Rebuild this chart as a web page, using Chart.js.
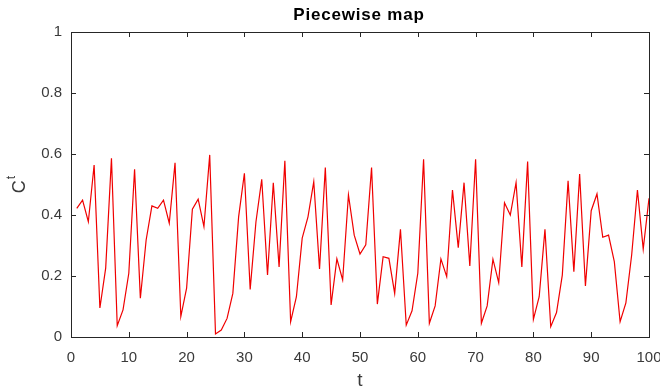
<!DOCTYPE html>
<html>
<head>
<meta charset="utf-8">
<script src="https://cdn.jsdelivr.net/npm/chart.js@4.4.0/dist/chart.umd.min.js"></script>
<style>
  html, body { margin: 0; padding: 0; background: #fff; }
  #wrap { width: 660px; height: 392px; position: relative; }
</style>
</head>
<body>
<div id="wrap"><canvas id="c" width="660" height="392"></canvas></div>
<script>
const tValues = [];
for (let i = 1; i <= 100; i++) tValues.push(i);

const cValues = [
  0.422, 0.449, 0.378, 0.564, 0.095, 0.226, 0.586, 0.037, 0.089, 0.209,
  0.550, 0.127, 0.318, 0.430, 0.422, 0.449, 0.373, 0.571, 0.067, 0.160,
  0.419, 0.452, 0.362, 0.597, 0.010, 0.023, 0.061, 0.143, 0.394, 0.537,
  0.156, 0.378, 0.517, 0.203, 0.506, 0.230, 0.578, 0.050, 0.132, 0.324,
  0.394, 0.509, 0.223, 0.556, 0.105, 0.256, 0.187, 0.466, 0.334, 0.272,
  0.302, 0.556, 0.108, 0.263, 0.258, 0.143, 0.353, 0.039, 0.086, 0.209,
  0.583, 0.045, 0.102, 0.256, 0.198, 0.482, 0.293, 0.506, 0.233, 0.583,
  0.045, 0.102, 0.255, 0.178, 0.440, 0.400, 0.506, 0.230, 0.575, 0.058,
  0.132, 0.353, 0.034, 0.080, 0.203, 0.512, 0.214, 0.534, 0.167, 0.414,
  0.469, 0.327, 0.334, 0.247, 0.050, 0.112, 0.269, 0.482, 0.288, 0.455
];

const xTicks = [0, 10, 20, 30, 40, 50, 60, 70, 80, 90, 100];
const yTicks = [0, 0.2, 0.4, 0.6, 0.8, 1];
const titleText = 'Piecewise map';
const xTitle = 't';
const yTitleMain = 'C';
const yTitleSup = 't';

const axisColor = '#262626';
const labelColor = '#3a3a3a';
const fontFam = '"Liberation Sans", Arial, Helvetica, sans-serif';

const decor = {
  id: 'decor',
  afterDraw(chart) {
    const ctx = chart.ctx;
    const a = chart.chartArea;
    const xs = chart.scales.x, ys = chart.scales.y;
    ctx.save();
    ctx.strokeStyle = axisColor;
    ctx.lineWidth = 1;
    ctx.strokeRect(Math.round(a.left) + 0.5, Math.round(a.top) + 0.5,
                   Math.round(a.right - a.left), Math.round(a.bottom - a.top));
    const tl = 5;
    ctx.beginPath();
    xTicks.forEach(v => {
      const px = Math.round(xs.getPixelForValue(v)) + 0.5;
      ctx.moveTo(px, a.bottom); ctx.lineTo(px, a.bottom - tl);
      ctx.moveTo(px, a.top); ctx.lineTo(px, a.top + tl);
    });
    yTicks.forEach(v => {
      const py = Math.round(ys.getPixelForValue(v)) + 0.5;
      ctx.moveTo(a.left, py); ctx.lineTo(a.left + tl, py);
      ctx.moveTo(a.right, py); ctx.lineTo(a.right - tl, py);
    });
    ctx.stroke();

    // title
    ctx.fillStyle = '#000';
    ctx.font = 'bold 17px ' + fontFam;
    try { ctx.letterSpacing = '0.8px'; } catch (e) {}
    ctx.textAlign = 'center';
    ctx.textBaseline = 'middle';
    ctx.fillText(titleText, 359, 15);
    try { ctx.letterSpacing = '0px'; } catch (e) {}

    // x title
    ctx.fillStyle = labelColor;
    ctx.font = '19px ' + fontFam;
    ctx.fillText(xTitle, (a.left + a.right) / 2, 381);

    // y title
    ctx.save();
    ctx.translate(20, (a.top + a.bottom) / 2);
    ctx.rotate(-Math.PI / 2);
    ctx.font = '18px ' + fontFam;
    ctx.textAlign = 'left';
    ctx.textBaseline = 'middle';
    const wC = ctx.measureText(yTitleMain).width;
    ctx.font = '12px ' + fontFam;
    const wT = ctx.measureText(yTitleSup).width;
    const start = -(wC + wT + 1) / 2;
    ctx.font = '18px ' + fontFam;
    ctx.fillText(yTitleMain, start, 0);
    ctx.font = '12px ' + fontFam;
    ctx.fillText(yTitleSup, start + wC + 1, -8);
    ctx.restore();
    ctx.restore();
  }
};

new Chart(document.getElementById('c'), {
  type: 'line',
  data: {
    datasets: [{
      data: tValues.map((t, i) => ({ x: t, y: cValues[i] })),
      borderColor: '#f00000',
      borderWidth: 1.2,
      pointRadius: 0,
      tension: 0,
      fill: false
    }]
  },
  options: {
    responsive: false,
    animation: false,
    devicePixelRatio: 1,
    layout: { padding: { left: 0, top: 32, right: 11, bottom: 0 } },
    plugins: { legend: { display: false }, title: { display: false }, tooltip: { enabled: false } },
    scales: {
      x: {
        type: 'linear', min: 0, max: 100,
        afterBuildTicks(s) { s.ticks = xTicks.map(v => ({ value: v })); },
        afterFit(s) { s.height = 55; s.paddingLeft = 0; s.paddingRight = 0; },
        grid: { display: false, drawTicks: false },
        border: { display: false },
        ticks: { color: labelColor, font: { family: fontFam, size: 15 }, padding: 12, maxRotation: 0, autoSkip: false }
      },
      y: {
        type: 'linear', min: 0, max: 1,
        afterBuildTicks(s) { s.ticks = yTicks.map(v => ({ value: v })); },
        afterFit(s) { s.width = 71; s.paddingTop = 0; s.paddingBottom = 0; },
        grid: { display: false, drawTicks: false },
        border: { display: false },
        ticks: { color: labelColor, font: { family: fontFam, size: 15 }, padding: 9,
                 callback: v => String(Math.round(v * 10) / 10) }
      }
    }
  },
  plugins: [decor]
});
</script>
</body>
</html>
